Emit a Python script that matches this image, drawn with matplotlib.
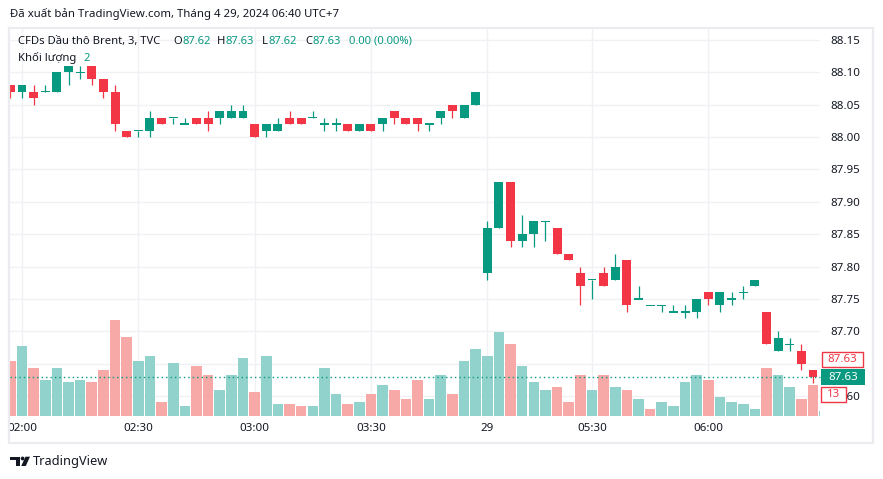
import numpy as np
import matplotlib.pyplot as plt
from matplotlib.patches import Rectangle, Polygon, Circle
from matplotlib.transforms import blended_transform_factory, Bbox, TransformedBbox

plt.rcParams['font.family'] = ['Noto Sans', 'DejaVu Sans']

# 3-minute bars, Brent CFD (TVC)
opens = [88.08, 88.07, 88.07, 88.07, 88.07, 88.10, 88.10, 88.11, 88.09, 88.07,
         88.01, 88.01, 88.01, 88.03, 88.03, 88.02, 88.03, 88.03, 88.03, 88.03,
         88.03, 88.02, 88.01, 88.01, 88.03, 88.03, 88.03, 88.02, 88.02, 88.02,
         88.01, 88.02, 88.02, 88.04, 88.03, 88.03, 88.02, 88.03, 88.05, 88.03,
         88.05, 87.79, 87.86, 87.93, 87.84, 87.85, 87.87, 87.86, 87.82, 87.79,
         87.78, 87.79, 87.78, 87.81, 87.75, 87.74, 87.74, 87.73, 87.73, 87.73,
         87.76, 87.74, 87.75, 87.76, 87.77, 87.73, 87.67, 87.68, 87.67, 87.64,
         87.62]
highs = [88.08, 88.08, 88.08, 88.08, 88.10, 88.11, 88.11, 88.11, 88.09, 88.08,
         88.01, 88.01, 88.04, 88.03, 88.03, 88.03, 88.03, 88.04, 88.04, 88.05,
         88.05, 88.02, 88.02, 88.03, 88.04, 88.03, 88.04, 88.03, 88.03, 88.02,
         88.02, 88.02, 88.03, 88.04, 88.03, 88.03, 88.02, 88.04, 88.05, 88.05,
         88.07, 87.87, 87.93, 87.93, 87.88, 87.87, 87.87, 87.86, 87.82, 87.80,
         87.78, 87.80, 87.82, 87.81, 87.77, 87.74, 87.74, 87.74, 87.74, 87.75,
         87.76, 87.76, 87.76, 87.77, 87.78, 87.73, 87.70, 87.69, 87.68, 87.64,
         87.63]
lows = [88.06, 88.06, 88.05, 88.07, 88.07, 88.08, 88.09, 88.08, 88.06, 88.01,
        88.00, 88.00, 88.00, 88.02, 88.02, 88.02, 88.02, 88.01, 88.02, 88.03,
        88.03, 88.00, 88.00, 88.01, 88.02, 88.02, 88.03, 88.01, 88.01, 88.01,
        88.01, 88.01, 88.01, 88.02, 88.02, 88.01, 88.01, 88.02, 88.03, 88.03,
        88.05, 87.78, 87.86, 87.83, 87.83, 87.83, 87.84, 87.82, 87.81, 87.74,
        87.75, 87.77, 87.78, 87.73, 87.75, 87.74, 87.73, 87.73, 87.72, 87.72,
        87.74, 87.73, 87.74, 87.75, 87.77, 87.68, 87.67, 87.67, 87.64, 87.62,
        87.62]
closes = [88.07, 88.08, 88.06, 88.07, 88.10, 88.11, 88.10, 88.09, 88.07, 88.02,
          88.00, 88.01, 88.03, 88.02, 88.03, 88.02, 88.02, 88.02, 88.04, 88.04,
          88.04, 88.00, 88.02, 88.02, 88.02, 88.02, 88.03, 88.02, 88.02, 88.01,
          88.02, 88.01, 88.03, 88.03, 88.02, 88.02, 88.02, 88.04, 88.04, 88.05,
          88.07, 87.86, 87.93, 87.84, 87.85, 87.87, 87.87, 87.82, 87.81, 87.77,
          87.78, 87.77, 87.80, 87.74, 87.75, 87.74, 87.74, 87.73, 87.73, 87.75,
          87.75, 87.76, 87.75, 87.76, 87.78, 87.68, 87.69, 87.68, 87.65, 87.63,
          87.63]
volumes = [23, 29, 20, 15, 20, 14, 15, 14, 19, 40,
           33, 23, 25, 6, 22, 4, 21, 17, 11, 17,
           24, 10, 25, 5, 5, 4, 4, 20, 9, 5,
           6, 9, 13, 11, 7, 15, 7, 17, 9, 23,
           28, 25, 35, 30, 21, 14, 11, 12, 6, 17,
           11, 17, 12, 11, 7, 3, 6, 4, 14, 17,
           15, 8, 6, 5, 3, 20, 17, 12, 7, 13,
           2]
down_volume_bars = [55]   # flat candle but red volume bar

time_ticks = [1, 11, 21, 31, 41, 50, 60]
time_labels = ['02:00', '02:30', '03:00', '03:30', '29', '05:30', '06:00']
price_ticks = [87.60, 87.65, 87.70, 87.75, 87.80, 87.85, 87.90, 87.95,
               88.00, 88.05, 88.10, 88.15]
hidden_ticks = [87.65]    # sits under the price labels
prev_label = '87.63'
vol_label = '13'

green = '#089981'
red = '#f23645'
vol_green = '#92d2cc'
vol_red = '#f7a9a7'
text_col = '#131722'
grid_col = '#f0f1f4'

W, H = 883, 479
fig = plt.figure(figsize=(W / 100, H / 100), dpi=100)
rect = [10 / W, (H - 416) / H, 810 / W, 388 / H]
ax = fig.add_axes(rect, zorder=1)
axv = fig.add_axes(rect, zorder=2, sharex=ax)
axv.patch.set_alpha(0)

o = np.array(opens)
h = np.array(highs)
l = np.array(lows)
c = np.array(closes)
x = np.arange(len(o))
up = c >= o
cols = np.where(up, green, red)

# candles
ax.vlines(x, l, h, colors=cols, lw=0.9, zorder=3)
px = 1 / 648.0
body = np.maximum(np.abs(c - o), px * 1.2)
bottom = np.minimum(o, c) - (body - np.abs(c - o)) / 2
ax.bar(x, body, bottom=bottom, width=0.77, color=cols, linewidth=0, zorder=4)

ax.set_xlim(-0.03, 69.6)
ax.set_ylim(87.5694, 88.1682)
ax.set_yticks(price_ticks)
ax.set_yticklabels(['' if p in hidden_ticks else '%.2f' % p for p in price_ticks])
ax.set_xticks(time_ticks)
ax.set_xticklabels(time_labels)
clip = TransformedBbox(Bbox([[10 / W, 0], [1, 1]]), fig.transFigure)
for lab in ax.get_xticklabels():
    if lab.get_text() == '29':
        lab.set_fontweight('bold')
    lab.set_clip_box(clip)
    lab.set_clip_on(True)
ax.yaxis.tick_right()
ax.tick_params(axis='y', length=0, pad=7.5, labelsize=8.3, labelcolor=text_col)
ax.tick_params(axis='x', length=0, pad=5, labelsize=8.3, labelcolor=text_col)
ax.grid(True, color=grid_col, lw=1, zorder=0)
ax.set_axisbelow(True)
for s in ax.spines.values():
    s.set_visible(False)

# volume
vcols = [vol_green if u else vol_red for u in up]
for i in down_volume_bars:
    vcols[i] = vol_red
axv.bar(x, volumes, width=0.91, color=vcols, linewidth=0)
axv.set_ylim(0, 388 / 2.4)
axv.tick_params(left=False, labelleft=False, bottom=False, labelbottom=False)
for s in axv.spines.values():
    s.set_visible(False)

# last price line
tr = blended_transform_factory(axv.transAxes, ax.transData)
axv.plot([0, 1], [closes[-1], closes[-1]], transform=tr, color=green,
         lw=1, ls=(0, (1, 2.2)), clip_on=False)

# overlay in pixel coordinates
ov = fig.add_axes([0, 0, 1, 1], zorder=3)
ov.set_xlim(0, W)
ov.set_ylim(H, 0)
ov.axis('off')
ov.patch.set_alpha(0)

ov.add_patch(Rectangle((9, 28), 864, 415, fill=False, ec='#ebebf0', lw=1.6))

ov.text(10, 14, 'Đã xuất bản TradingView.com, Tháng 4 29, 2024 06:40 UTC+7',
        ha='left', va='center', fontsize=8.2, color=text_col)

# legend line: symbol + OHLC of last bar
chg = closes[-1] - closes[-2]
ov.text(18, 41, 'CFDs Dầu thô Brent, 3, TVC', ha='left', va='center',
        fontsize=8.1, color=text_col)
ohlc = [(173, 'O', opens[-1]), (217, 'H', highs[-1]),
        (262, 'L', lows[-1]), (305, 'C', closes[-1])]
for xx, letter, val in ohlc:
    t = ov.text(xx, 41, letter, ha='left', va='center', fontsize=8.1, color=text_col)
    ov.annotate('%.2f' % val, xy=(1, 0.5), xycoords=t, xytext=(0.4, 0),
                textcoords='offset points', ha='left', va='center',
                fontsize=8.1, color=green)
ov.text(349, 41, '%.2f (%.2f%%)' % (abs(chg), abs(chg) / closes[-2] * 100),
        ha='left', va='center', fontsize=8.1, color=green)
ov.text(18, 58, 'Khối lượng', ha='left', va='center', fontsize=8.1, color=text_col)
ov.text(83, 58, str(volumes[-1]), ha='left', va='center', fontsize=8.1, color=green)

# price scale labels
ov.add_patch(Rectangle((822, 352), 41, 15, fc='white', ec=red, lw=1))
ov.text(842.5, 359.5, prev_label, ha='center', va='center', fontsize=8.3, color=red)
ov.add_patch(Rectangle((821, 369), 44, 16, fc=green, ec='none'))
ov.text(843, 377, '%.2f' % closes[-1], ha='center', va='center', fontsize=8.3,
        color='white', fontweight='bold')
ov.add_patch(Rectangle((821, 387), 25, 15, fc='white', ec=red, lw=1))
ov.text(833.5, 394.5, vol_label, ha='center', va='center', fontsize=8.3, color=red)

# footer logo
ov.add_patch(Polygon([(10, 456.7), (20, 456.7), (20, 466), (16, 466), (16, 460.3), (10, 460.3)],
                     closed=True, fc=text_col, ec='none'))
ov.add_patch(Circle((22.6, 458.5), 1.9, fc=text_col, ec='none'))
ov.add_patch(Polygon([(25.5, 456.7), (30, 456.7), (25.8, 466), (21.2, 466)],
                     closed=True, fc=text_col, ec='none'))
ov.text(33, 461.5, 'TradingView', ha='left', va='center', fontsize=9.2, color=text_col)

plt.savefig('out.png', dpi=100)
